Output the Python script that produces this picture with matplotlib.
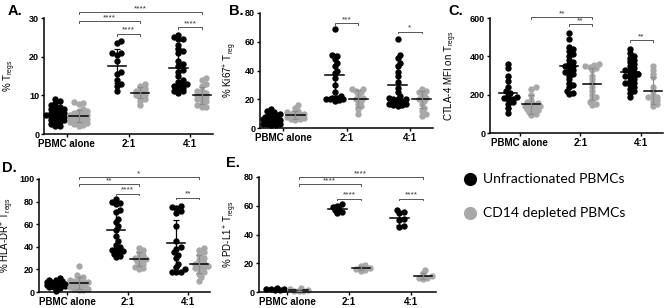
import numpy as np
import matplotlib.pyplot as plt

plt.rcParams.update({'font.family': 'Liberation Sans', 'font.size': 7})

W, H = 669, 308
cats = ['PBMC alone', '2:1', '4:1']
black = '#000000'
grey = '#a8a8a8'

# ---- data ----
# A. % Tregs
a_unf = [[9, 8.5, 8, 7.5, 7, 7, 6.5, 6.5, 6, 6, 5.5, 5.5, 5, 5, 5, 4.5, 4.5, 4, 4, 3.5, 3.5, 3, 3, 2.5, 2, 2],
         [24, 23.5, 21, 21, 20.5, 19, 16, 15.5, 14, 13, 12.5, 11.2],
         [25.5, 25, 24.5, 24.5, 23, 22, 21.5, 21, 19, 18, 17.5, 16.5, 16, 15, 14, 13.5, 13, 13, 12.5,
          12.5, 12, 11.5, 11, 11, 10.5]]
a_cd14 = [[8.2, 8, 7.8, 6.5, 6, 6, 5.5, 5.5, 5, 5, 4.8, 4.5, 4.5, 4, 4, 3.8, 3.5, 3.5, 3, 3, 2.8, 2.5, 2.2, 2],
          [13, 12.5, 12, 11.5, 11, 11, 10.5, 10, 10, 9.5, 9, 8.5, 7.5],
          [14.5, 14, 13, 12.5, 11, 11, 10.5, 10, 10, 9.5, 9, 9, 8.5, 8, 7.5, 7, 7]]
a_mean_unf, a_sd_unf = [5, 17.6, 17], [1.7, 4.4, 5.3]
a_mean_cd14, a_sd_cd14 = [4.6, 10.7, 10], [1.6, 1.5, 2.2]
a_sig = [(0, 1, 2, 1, 31.5, '****'), (0, 1, 1, 1, 29.2, '****'),
         (1, 0, 1, 1, 25.9, '****'), (2, 0, 2, 1, 27.7, '****')]

# B. % Ki67+ Treg
b_unf = [[13, 12, 11, 10, 9.5, 9, 8, 8, 7, 7, 6.5, 6, 6, 5.5, 5, 5, 4.5, 4, 4, 3.5, 3, 3, 2.5, 2, 2],
         [69, 51, 50, 48, 45, 43, 40, 38, 35, 30, 25, 22, 21, 21, 20.5, 20, 20, 19.5, 19],
         [62, 51, 49, 45, 43, 39, 36, 32, 28, 25, 22, 21, 20, 20, 20, 19, 19, 18, 17, 17, 16.5, 16, 16, 15.5]]
b_cd14 = [[16, 14, 12, 11, 10.5, 10, 9.5, 9, 9, 8.5, 8, 8, 7.5, 7, 6.5, 6, 5.5],
          [27, 27, 26, 25, 23, 21, 20, 19, 17, 15, 13, 10],
          [27, 26, 25, 24, 22, 21, 20, 19, 17, 14, 12, 10, 8.5]]
b_mean_unf, b_sd_unf = [6, 37, 30], [3, 14.5, 14]
b_mean_cd14, b_sd_cd14 = [9, 20.5, 20], [2.5, 6, 6]
b_sig = [(1, 0, 1, 1, 73, '***'), (2, 0, 2, 1, 67, '*')]

# C. CTLA-4 MFI on Tregs
c_unf = [[360, 340, 300, 270, 240, 220, 210, 195, 190, 185, 180, 175, 160, 150, 130, 105],
         [520, 490, 450, 440, 430, 410, 400, 380, 370, 360, 350, 350, 340, 330, 320, 320, 310, 300,
          280, 260, 250, 240, 220, 210, 205],
         [440, 420, 400, 390, 380, 370, 360, 350, 340, 330, 330, 320, 310, 310, 300, 300, 290, 280,
          270, 260, 260, 250, 240, 230, 220, 210, 190]]
c_cd14 = [[240, 230, 200, 170, 160, 155, 150, 145, 140, 140, 135, 130, 125, 120, 115, 110, 100, 95],
          [360, 355, 350, 345, 340, 330, 300, 280, 260, 240, 220, 200, 190, 180, 160, 150, 145],
          [350, 330, 310, 290, 240, 220, 200, 190, 190, 180, 170, 160, 150, 140]]
c_mean_unf, c_sd_unf = [210, 350, 320], [80, 95, 60]
c_mean_cd14, c_sd_cd14 = [150, 255, 220], [50, 85, 70]
c_sig = [(0, 1, 1, 1, 605, '**'), (1, 0, 1, 1, 568, '**'), (2, 0, 2, 1, 485, '**')]

# D. % HLA-DR+ Tregs
d_unf = [[12, 11, 10.5, 10, 9, 8.5, 8, 7.5, 7, 7, 6.5, 6, 6, 5.5, 5, 5, 4.5, 4, 3.5, 1],
         [82, 80, 79, 78, 73, 71, 65, 62, 58, 55, 50, 45, 42, 40, 38, 37, 36, 35, 34, 32, 31],
         [76, 75, 74, 72, 70, 58, 45, 40, 38, 35, 33, 30, 25, 22, 20, 18, 18, 17.5]]
d_cd14 = [[23, 15, 13, 12, 11, 10, 9, 8.5, 8, 7, 6, 5, 4.5, 4, 3, 2.5, 2, 1.5],
          [39, 37, 35, 33, 31, 30, 29, 28, 27, 25, 24, 22, 21, 20],
          [39, 37, 35, 33, 30, 28, 26, 25, 24, 23, 22, 21, 20, 18, 16, 13, 10]]
d_mean_unf, d_sd_unf = [7, 55, 43], [3, 17, 21]
d_mean_cd14, d_sd_cd14 = [8, 29, 25], [5, 6, 8]
d_sig = [(0, 1, 2, 1, 101.7, '*'), (0, 1, 1, 1, 95.6, '**'),
         (1, 0, 1, 1, 87, '****'), (2, 0, 2, 1, 83.5, '**')]

# E. % PD-L1+ Tregs
e_unf = [[2.5, 2, 2, 1.8, 1.5, 1.2],
         [61, 60, 59, 58, 57, 56, 55],
         [57, 56, 55, 51, 50, 46, 45]]
e_cd14 = [[2.5, 2, 1.5, 1, 0.8, 0.5],
          [19, 18, 17, 16, 15.5, 14.5],
          [15, 13, 11, 10, 9.5, 9]]
e_mean_unf, e_sd_unf = [2, 57.5, 51.5], [0.5, 2, 4.8]
e_mean_cd14, e_sd_cd14 = [1.4, 16.5, 11], [0.8, 1.5, 2]
e_sig = [(0, 1, 2, 1, 80, '****'), (0, 1, 1, 1, 75, '****'),
         (1, 0, 1, 1, 65, '****'), (2, 0, 2, 1, 65, '****')]


def swarm(vals, ppu, spacing, d=3.6, step=2.2, cap=9.0):
    # compact beeswarm in pixels, dots may overlap a little, width capped
    order = np.argsort(vals)
    placed = []
    offs = np.zeros(len(vals))
    cands = [0.0]
    k = 1
    while k * step <= cap:
        cands += [k * step, -k * step]
        k += 1
    for i in order:
        y = vals[i] * ppu
        best, best_d = 0.0, -1
        for c in cands:
            md = min([np.hypot(c - px, y - py) for px, py in placed] + [99])
            if md >= d:
                best = c
                break
            if md > best_d:
                best, best_d = c, md
        placed.append((best, y))
        offs[i] = best / spacing
    return offs


def panel(rect, unf, cd14, mu, su, mc, sc, sig, ymax, ystep, ylabel, xlim, labx):
    ax = fig.add_axes([rect[0] / W, 1 - rect[3] / H, (rect[1] - rect[0]) / W, (rect[3] - rect[2]) / H])
    ppu = (rect[3] - rect[2]) / ymax
    sp = (rect[1] - rect[0]) / (xlim[1] - xlim[0])
    dx = 0.19
    for i in range(3):
        for vals, col, xo, m, s in [(unf[i], black, -dx, mu[i], su[i]), (cd14[i], grey, dx, mc[i], sc[i])]:
            v = np.array(vals, float)
            ax.scatter(i + xo + swarm(v, ppu, sp), v, s=21, color=col, lw=0, zorder=2, clip_on=False)
            ax.plot([i + xo - 0.15, i + xo + 0.15], [m, m], color='k', lw=1.1, zorder=3)
            ax.errorbar(i + xo, m, yerr=s, color='k' if col == black else '#8c8c8c',
                        capsize=2.5, lw=0.9, capthick=0.9, zorder=3)
    for c1, s1, c2, s2, y, txt in sig:
        x1 = c1 + (dx if s1 else -dx)
        x2 = c2 + (dx if s2 else -dx)
        tk = ymax * 0.015
        ax.plot([x1, x1, x2, x2], [y - tk, y, y, y - tk], color='#555555', lw=0.7, clip_on=False)
        ax.text((x1 + x2) / 2, y, txt, ha='center', va='bottom', fontsize=6, color='#333333')
    ax.set_xlim(xlim)
    ax.set_ylim(0, ymax)
    ax.set_yticks(np.arange(0, ymax + 1, ystep))
    ax.set_xticks(range(3))
    ax.set_xticklabels(cats, fontweight='bold', fontsize=7)
    for lab in ax.get_yticklabels():
        lab.set_fontweight('bold')
        lab.set_fontsize(6.5)
    ax.tick_params(direction='out', length=2.5, width=1, pad=1)
    for sp_ in ['top', 'right']:
        ax.spines[sp_].set_visible(False)
    for sp_ in ['left', 'bottom']:
        ax.spines[sp_].set_linewidth(1.1)
    ax.set_ylabel(ylabel, fontsize=7)
    ax.yaxis.set_label_coords(labx / W, 1 - (rect[2] + rect[3]) / 2 / H, transform=fig.transFigure)
    return ax


fig = plt.figure(figsize=(W / 100, H / 100), dpi=100)

panel((44, 213, 18, 134), a_unf, a_cd14, a_mean_unf, a_sd_unf, a_mean_cd14, a_sd_cd14, a_sig,
      30, 10, '% T$_{\\mathregular{regs}}$', (-0.37, 2.37), 18)
panel((260, 433, 13, 128), b_unf, b_cd14, b_mean_unf, b_sd_unf, b_mean_cd14, b_sd_cd14, b_sig,
      80, 20, '% Ki67$^{\\mathregular{+}}$ T$_{\\mathregular{reg}}$', (-0.37, 2.37), 239)
panel((490, 663, 18, 133), c_unf, c_cd14, c_mean_unf, c_sd_unf, c_mean_cd14, c_sd_cd14, c_sig,
      600, 200, 'CTLA-4 MFI on T$_{\\mathregular{regs}}$', (-0.49, 2.36), 459)
panel((39, 210, 179, 292), d_unf, d_cd14, d_mean_unf, d_sd_unf, d_mean_cd14, d_sd_cd14, d_sig,
      100, 20, '% HLA-DR$^{\\mathregular{+}}$ T$_{\\mathregular{regs}}$', (-0.47, 2.37), 16.5)
panel((259, 436, 177, 292), e_unf, e_cd14, e_mean_unf, e_sd_unf, e_mean_cd14, e_sd_cd14, e_sig,
      80, 20, '% PD-L1$^{\\mathregular{+}}$ T$_{\\mathregular{regs}}$', (-0.45, 2.4), 239)

for txt, x, y in [('A.', 8, 11), ('B.', 229, 11), ('C.', 448, 11), ('D.', 2, 168), ('E.', 226, 163)]:
    fig.text(x / W, 1 - y / H, txt, fontsize=10.5, fontweight='bold', va='center', ha='left')

# legend
lax = fig.add_axes([0, 0, 1, 1], facecolor='none')
lax.set_xlim(0, W)
lax.set_ylim(H, 0)
lax.axis('off')
lax.scatter([470], [179], s=90, color=black, lw=0)
lax.scatter([470], [213], s=90, color=grey, lw=0)
lax.text(483, 179, 'Unfractionated PBMCs', fontsize=10, va='center', family='Lato')
lax.text(483, 213, 'CD14 depleted PBMCs', fontsize=10, va='center', family='Lato')

plt.savefig('out.png', dpi=100)
